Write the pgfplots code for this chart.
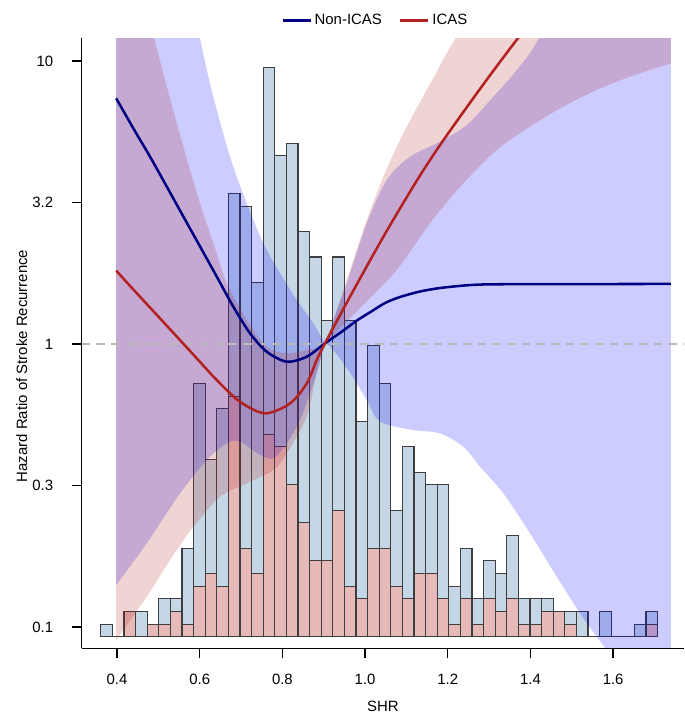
\documentclass[border=0pt]{standalone}
\usepackage{fontspec}
\setmainfont{Liberation Sans}
\usepackage{pgfplots}
\usepackage{pgfplotstable}
\pgfplotsset{compat=1.18}
\usepgfplotslibrary{fillbetween}
\pgfplotsset{set layers}

\definecolor{barblue}{RGB}{197,214,230}
\definecolor{barpink}{RGB}{231,186,186}
\definecolor{baredge}{RGB}{62,62,62}
\definecolor{navyline}{RGB}{0,0,128}
\definecolor{firebrick}{RGB}{178,34,34}
\definecolor{refgray}{RGB}{185,185,185}
\newcommand\chartfont{\fontsize{11.2}{13}\selectfont}

\pgfplotstableread{
x b p
0.3606 1 0
0.3886 0 0
0.4167 0 2
0.4447 2 0
0.4728 1 1
0.5009 3 1
0.5289 3 2
0.5570 7 1
0.5850 20 4
0.6131 14 5
0.6412 18 4
0.6692 35 19
0.6973 34 7
0.7253 28 5
0.7534 45 16
0.7815 38 15
0.8095 39 12
0.8376 32 9
0.8656 30 6
0.8937 25 6
0.9218 30 10
0.9498 25 4
0.9779 17 3
1.0059 23 7
1.0340 20 7
1.0621 10 4
1.0901 15 3
1.1182 13 5
1.1462 12 5
1.1743 12 3
1.2024 4 1
1.2304 7 3
1.2585 3 1
1.2865 6 3
1.3146 5 2
1.3427 8 3
1.3707 3 1
1.3988 3 1
1.4268 3 2
1.4549 2 2
1.4830 2 1
1.5110 2 0
1.5391 0 0
1.5671 2 0
1.5952 0 0
1.6233 0 0
1.6513 1 0
1.6794 2 1
1.7075 0 0
}\hist

\begin{document}
\begin{tikzpicture}
% histogram layer
\begin{axis}[
  at={(0pt,0pt)}, anchor=south west,
  scale only axis, width=451.7pt, height=457.5pt,
  xmin=0.3146, xmax=1.7716, ymin=-0.9167, ymax=47.29,
  axis on top, hide axis]
\addplot[on layer=axis background, ybar interval, fill=barblue, draw=baredge, line width=0.85pt] table[x=x,y=b]{\hist};
\addplot[on layer=axis background, ybar interval, fill=barpink, draw=baredge, line width=0.85pt] table[x=x,y=p]{\hist};
\end{axis}
% main layer
\begin{axis}[
  at={(0pt,0pt)}, anchor=south west,
  scale only axis, width=451.7pt, height=457.5pt,
  xmin=0.3146, xmax=1.7716,
  ymode=log, ymin=0.08409, ymax=12.03,
  axis x line*=bottom, axis y line*=left,
  axis line style={-, line width=1pt, black},
  axis on top,
  xtick={0.4,0.6,0.8,1.0,1.2,1.4,1.6},
  xticklabels={0.4,0.6,0.8,1.0,1.2,1.4,1.6},
  ytick={0.1,0.316228,1,3.16228,10},
  yticklabels={0.1,0.3,1,3.2,10},
  yminorticks=false, xminorticks=false,
  tick align=outside, major tick length=7.5pt,
  tick style={black, line width=1pt},
  tick label style={font=\chartfont},
  xticklabel style={anchor=center, yshift=-15.5pt},
  yticklabel style={anchor=east, inner sep=0pt, xshift=-13.7pt},
  xlabel={SHR},
  ylabel={Hazard Ratio of Stroke Recurrence},
  every axis x label/.style={at={(axis description cs:0.5,0)}, anchor=center, yshift=-43.8pt, font=\chartfont},
  every axis y label/.style={at={(axis description cs:-0.0997,0.4628)}, anchor=center, rotate=90, font=\chartfont},
  legend style={at={(axis description cs:0.488,1.0289)}, anchor=center, draw=none, fill=none,
    legend columns=2, font=\chartfont,
    /tikz/every even column/.append style={column sep=11pt}},
  legend image code/.code={\draw[#1] (0pt,0pt) -- (21pt,0pt);},
]
\addlegendimage{navyline, line width=1.9pt}
\addlegendentry{Non-ICAS}
\addlegendimage{firebrick, line width=1.9pt}
\addlegendentry{ICAS}

\addplot[name path=nu, draw=none, smooth, forget plot] coordinates {
(0.398,387) (0.4718,116.5) (0.5524,29.5) (0.6008,12.03) (0.6329,7.48) (0.6733,4.59) (0.7137,3.14) (0.7539,2.27) (0.7943,1.778) (0.8347,1.43) (0.8749,1.183) (0.9056,1.0) (0.9153,1.12) (0.9556,1.639) (1.004,2.67) (1.0524,3.80) (1.1088,4.59) (1.1813,5.19) (1.2459,5.94) (1.3103,7.48) (1.3669,9.29) (1.4191,11.93) (1.52,23.7) (1.5853,31.5) (1.7394,63.4)};
\addplot[name path=nl, draw=none, smooth, forget plot] coordinates {
(0.398,0.1407) (0.4718,0.1976) (0.5524,0.2968) (0.617,0.3892) (0.6654,0.4457) (0.6975,0.4517) (0.7459,0.4053) (0.7781,0.3946) (0.8105,0.4457) (0.8427,0.5387) (0.8669,0.67) (0.888,0.83) (0.9056,1.0) (0.9556,0.823) (1.004,0.634) (1.0362,0.5314) (1.1167,0.4967) (1.1813,0.4835) (1.2377,0.4336) (1.2781,0.3684) (1.3345,0.2968) (1.399,0.2143) (1.4636,0.1506) (1.52,0.1118) (1.5604,0.0924) (1.5846,0.0829) (1.7394,0.0415)};
\addplot[name path=iu, draw=none, smooth, forget plot] coordinates {
(0.398,36.5) (0.4435,21.1) (0.4895,12.03) (0.5161,8.57) (0.5604,4.98) (0.6008,3.14) (0.6412,2.092) (0.6654,1.639) (0.7137,1.216) (0.7621,0.978) (0.8105,0.927) (0.8589,0.952) (0.9056,1.0) (0.9232,1.216) (0.9636,1.826) (1.004,2.743) (1.0442,3.90) (1.0846,5.26) (1.125,6.82) (1.1651,8.71) (1.2176,11.93) (1.37,26.1) (1.568,83.6) (1.7394,189)};
\addplot[name path=il, draw=none, smooth, forget plot] coordinates {
(0.398,0.090) (0.4718,0.128) (0.5282,0.1725) (0.5846,0.2262) (0.6492,0.2887) (0.7137,0.322) (0.7781,0.3587) (0.8105,0.411) (0.8589,0.5535) (0.8831,0.79) (0.9056,1.0) (0.9474,1.167) (0.9958,1.373) (1.0766,1.826) (1.1571,2.67) (1.2377,3.70) (1.3185,4.85) (1.399,5.86) (1.4796,6.90) (1.5604,7.90) (1.6409,8.80) (1.7394,9.81)};

\addplot[fill=blue, fill opacity=0.2, draw=none, forget plot] fill between[of=nu and nl];
\addplot[fill=firebrick, fill opacity=0.2, draw=none, forget plot] fill between[of=iu and il];

\addplot[refgray, line width=1.1pt, dash pattern=on 6.5pt off 4.5pt, forget plot] coordinates {(0.3146,1) (1.7716,1)};

\addplot[navyline, line width=1.9pt, smooth, forget plot] coordinates {
(0.398,7.38) (0.4394,5.78) (0.4798,4.59) (0.5202,3.60) (0.5604,2.82) (0.6008,2.21) (0.6412,1.73) (0.6813,1.354) (0.7217,1.091) (0.7621,0.939) (0.8105,0.866) (0.8589,0.902) (0.9031,1.006) (0.9441,1.107) (0.9804,1.211) (1.017,1.308) (1.0483,1.396) (1.0846,1.466) (1.133,1.533) (1.1813,1.577) (1.2459,1.612) (1.3054,1.625) (1.4716,1.628) (1.7394,1.63)};
\addplot[firebrick, line width=1.9pt, smooth, forget plot] coordinates {
(0.398,1.816) (0.4387,1.562) (0.4798,1.345) (0.5202,1.161) (0.5604,1.002) (0.6008,0.864) (0.6412,0.746) (0.6975,0.625) (0.758,0.569) (0.8185,0.617) (0.8589,0.726) (0.8831,0.878) (0.9031,1.006) (0.9636,1.47) (1.0442,2.392) (1.125,3.776) (1.1893,5.246) (1.2861,8.27) (1.3707,12.09) (1.4716,18.7) (1.7394,60.4)};
\end{axis}
\pgfresetboundingbox
\path (-61.3pt,-48.5pt) rectangle (451.7pt,486.2pt);
\end{tikzpicture}
\end{document}
